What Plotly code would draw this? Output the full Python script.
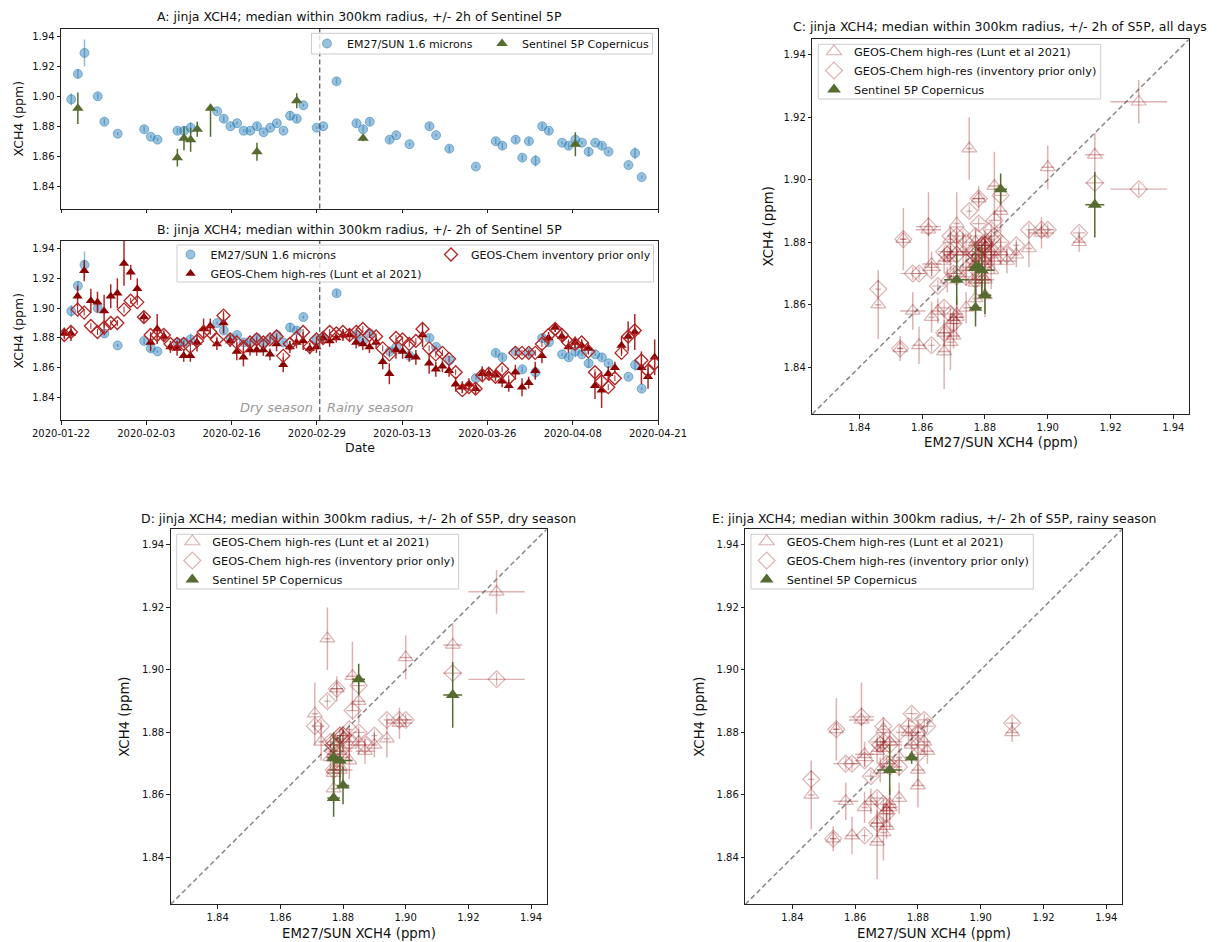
import plotly.graph_objects as go
import pandas as pd

W, H = 1227, 942

# ---------------- data ----------------
em27_time = [
    "2020-01-23 13:00", "2020-01-24 13:00", "2020-01-25 13:00", "2020-01-27 13:00", "2020-01-28 13:00",
    "2020-01-30 13:00", "2020-02-03 13:00", "2020-02-04 13:00", "2020-02-05 13:00", "2020-02-08 13:00",
    "2020-02-09 13:00", "2020-02-10 13:00", "2020-02-14 13:00", "2020-02-15 13:00", "2020-02-16 13:00",
    "2020-02-17 13:00", "2020-02-18 13:00", "2020-02-19 13:00", "2020-02-20 13:00", "2020-02-21 13:00",
    "2020-02-22 13:00", "2020-02-23 13:00", "2020-02-24 13:00", "2020-02-25 13:00", "2020-02-26 13:00",
    "2020-02-27 13:00", "2020-02-29 13:00", "2020-03-01 13:00", "2020-03-03 13:00", "2020-03-06 13:00",
    "2020-03-07 13:00", "2020-03-08 13:00", "2020-03-11 13:00", "2020-03-12 13:00", "2020-03-14 13:00",
    "2020-03-17 13:00", "2020-03-18 13:00", "2020-03-20 13:00", "2020-03-24 13:00", "2020-03-27 13:00",
    "2020-03-28 13:00", "2020-03-30 13:00", "2020-03-31 13:00", "2020-04-01 13:00", "2020-04-02 13:00",
    "2020-04-03 13:00", "2020-04-04 13:00", "2020-04-06 13:00", "2020-04-07 13:00", "2020-04-08 13:00",
    "2020-04-09 13:00", "2020-04-10 13:00", "2020-04-11 13:00", "2020-04-12 13:00", "2020-04-13 13:00",
    "2020-04-16 13:00", "2020-04-17 13:00", "2020-04-18 13:00",
]
em27_xch4 = [
    1.898, 1.915, 1.929, 1.900, 1.883, 1.875, 1.878, 1.873, 1.871, 1.877,
    1.877, 1.879, 1.890, 1.885, 1.880, 1.882, 1.877, 1.877, 1.880, 1.876,
    1.879, 1.882, 1.877, 1.887, 1.885, 1.894, 1.879, 1.880, 1.910, 1.882,
    1.878, 1.883, 1.871, 1.874, 1.868, 1.880, 1.874, 1.865, 1.853, 1.870,
    1.867, 1.871, 1.859, 1.870, 1.857, 1.880, 1.877, 1.869, 1.867, 1.871,
    1.869, 1.863, 1.869, 1.867, 1.863, 1.854, 1.862, 1.846,
]
em27_err = [
    0.004, 0.003, 0.009, 0.002, 0.002, 0.001, 0.002, 0.001, 0.001, 0.002,
    0.002, 0.004, 0.001, 0.002, 0.001, 0.001, 0.001, 0.001, 0.002, 0.001,
    0.001, 0.001, 0.001, 0.003, 0.002, 0.001, 0.001, 0.001, 0.002, 0.002,
    0.002, 0.002, 0.002, 0.001, 0.001, 0.002, 0.001, 0.002, 0.001, 0.002,
    0.002, 0.002, 0.002, 0.002, 0.004, 0.002, 0.002, 0.001, 0.002, 0.004,
    0.001, 0.003, 0.001, 0.002, 0.001, 0.001, 0.004, 0.001,
]

s5p_time = [
    "2020-01-24 13:00", "2020-02-08 13:00", "2020-02-09 13:00", "2020-02-10 13:00", "2020-02-11 13:00",
    "2020-02-13 13:00", "2020-02-20 13:00", "2020-02-26 13:00", "2020-03-07 13:00", "2020-04-08 13:00",
]
s5p_xch4 = [1.892, 1.859, 1.872, 1.871, 1.878, 1.892, 1.863, 1.897, 1.872, 1.868]
s5p_err_plus = [0.0105, 0.006, 0.008, 0.008, 0.005, 0.001, 0.006, 0.005, 0.002, 0.008]
s5p_err_minus = [0.0105, 0.006, 0.008, 0.008, 0.005, 0.019, 0.006, 0.005, 0.002, 0.008]

# GEOS-Chem daily values, one per day starting 2020-01-22
model_start = "2020-01-22 12:00"
gc_highres = [
    1.883, 1.883, 1.908, 1.925, 1.905, 1.904, 1.898, 1.908, 1.910, 1.930,
    1.924, 1.913, 1.894, 1.877, 1.886, 1.881, 1.874, 1.873, 1.868, 1.868,
    1.877, 1.886, 1.888, 1.876, 1.890, 1.878, 1.871, 1.867, 1.872, 1.872,
    1.872, 1.869, 1.876, 1.862, 1.874, 1.877, 1.878, 1.873, 1.874, 1.880,
    1.878, 1.880, 1.882, 1.882, 1.877, 1.876, 1.874, 1.877, 1.864, 1.856,
    1.872, 1.871, 1.868, 1.867, 1.882, 1.863, 1.859, 1.861, 1.858, 1.849,
    1.847, 1.849, 1.846, 1.856, 1.856, 1.855, 1.851, 1.848, 1.857, 1.847,
    1.850, 1.858, 1.868, 1.880, 1.887, 1.881, 1.874, 1.877, 1.875, 1.873,
    1.848, 1.845, 1.856, 1.860, 1.875, 1.881, 1.884, 1.860, 1.854, 1.867,
]
gc_highres_err = [
    0.004, 0.005, 0.007, 0.007, 0.008, 0.007, 0.011, 0.008, 0.010, 0.015,
    0.005, 0.007, 0.004, 0.006, 0.010, 0.004, 0.004, 0.005, 0.004, 0.004,
    0.006, 0.007, 0.005, 0.004, 0.007, 0.004, 0.006, 0.006, 0.004, 0.004,
    0.004, 0.004, 0.005, 0.005, 0.004, 0.004, 0.006, 0.004, 0.004, 0.004,
    0.004, 0.003, 0.004, 0.004, 0.004, 0.004, 0.004, 0.004, 0.005, 0.007,
    0.006, 0.005, 0.004, 0.005, 0.008, 0.007, 0.005, 0.004, 0.004, 0.005,
    0.004, 0.004, 0.004, 0.005, 0.004, 0.004, 0.004, 0.004, 0.005, 0.006,
    0.004, 0.006, 0.005, 0.004, 0.003, 0.004, 0.004, 0.004, 0.004, 0.004,
    0.009, 0.012, 0.005, 0.004, 0.006, 0.010, 0.012, 0.011, 0.008, 0.012,
]
gc_prior = [
    1.882, 1.884, 1.899, 1.897, 1.888, 1.884, 1.887, 1.890, 1.890, 1.899,
    1.905, 1.904, 1.894, 1.882, 1.882, 1.882, 1.876, 1.876, 1.876, 1.874,
    1.878, 1.884, 1.884, 1.879, 1.895, 1.879, 1.877, 1.874, 1.877, 1.879,
    1.877, 1.879, 1.881, 1.868, 1.876, 1.880, 1.884, 1.874, 1.879, 1.880,
    1.884, 1.883, 1.884, 1.882, 1.884, 1.886, 1.882, 1.881, 1.873, 1.869,
    1.880, 1.879, 1.876, 1.878, 1.886, 1.873, 1.869, 1.870, 1.866, 1.857,
    1.845, 1.847, 1.846, 1.855, 1.856, 1.854, 1.859, 1.853, 1.870, 1.870,
    1.870, 1.870, 1.876, 1.882, 1.886, 1.882, 1.877, 1.876, 1.877, 1.871,
    1.857, 1.851, 1.847, 1.853, 1.870, 1.881, 1.885, 1.865, 1.858, 1.863,
]
gc_prior_err = [
    0.002, 0.002, 0.002, 0.002, 0.002, 0.002, 0.003, 0.002, 0.002, 0.002,
    0.002, 0.002, 0.002, 0.002, 0.002, 0.002, 0.002, 0.002, 0.002, 0.002,
    0.002, 0.002, 0.002, 0.002, 0.003, 0.002, 0.002, 0.002, 0.002, 0.002,
    0.002, 0.002, 0.002, 0.002, 0.002, 0.002, 0.002, 0.002, 0.002, 0.002,
    0.002, 0.002, 0.002, 0.002, 0.002, 0.002, 0.002, 0.002, 0.002, 0.002,
    0.002, 0.002, 0.002, 0.002, 0.003, 0.002, 0.002, 0.002, 0.002, 0.002,
    0.002, 0.002, 0.002, 0.002, 0.002, 0.002, 0.002, 0.002, 0.002, 0.002,
    0.002, 0.002, 0.002, 0.002, 0.002, 0.002, 0.002, 0.002, 0.002, 0.002,
    0.002, 0.002, 0.002, 0.002, 0.002, 0.002, 0.003, 0.003, 0.002, 0.002,
]

date_ticklabels = ["2020-01-22", "2020-02-03", "2020-02-16", "2020-02-29",
                   "2020-03-13", "2020-03-26", "2020-04-08", "2020-04-21"]
date_range = ["2020-01-22", "2020-04-21"]
season_split = "2020-03-01"
ppm_ticks = [1.84, 1.86, 1.88, 1.90, 1.92, 1.94]
ppm_range = [1.825, 1.945]

# ---------------- derived ----------------
em_t = pd.to_datetime(em27_time)
s5_t = pd.to_datetime(s5p_time)
model_t = pd.date_range(model_start, periods=len(gc_highres), freq="D")
t0 = pd.Timestamp(date_range[0])
t1 = pd.Timestamp(date_range[1])
n_int = len(date_ticklabels) - 1
date_tickvals = [t0 + (t1 - t0) * i / n_int for i in range(len(date_ticklabels))]

model_day_index = {d.normalize(): i for i, d in enumerate(model_t)}
em_day_index = {d.normalize(): i for i, d in enumerate(em_t)}


def in_season(d, season):
    if season == "dry":
        return d < pd.Timestamp(season_split)
    if season == "rainy":
        return d >= pd.Timestamp(season_split)
    return True


def pairs(season):
    rows = []
    for i, d in enumerate(em_t):
        if not in_season(d, season):
            continue
        j = model_day_index.get(d.normalize())
        if j is None:
            continue
        rows.append((em27_xch4[i], em27_err[i], gc_highres[j], gc_highres_err[j], gc_prior[j], gc_prior_err[j]))
    return rows


def s5p_pairs(season):
    rows = []
    for k, d in enumerate(s5_t):
        if not in_season(d, season):
            continue
        i = em_day_index.get(d.normalize())
        if i is None:
            continue
        rows.append((em27_xch4[i], em27_err[i], s5p_xch4[k], s5p_err_plus[k], s5p_err_minus[k]))
    return rows


# ---------------- style ----------------
FONT = "DejaVu Sans"
BLUE = "rgba(31,119,180,0.45)"
BLUE_E = "rgba(31,119,180,0.5)"
GREEN = "#556B2F"
DARKRED = "#8B0000"
PRIOR = "#B22222"
PALE = "rgba(150,20,20,0.33)"

fig = go.Figure()


def px_x(p):
    return p / W


def px_y(p):
    return 1 - p / H


# ---- Panel A ----
fig.add_trace(go.Scatter(
    x=em_t, y=em27_xch4, mode="markers", name="EM27/SUN 1.6 microns",
    marker=dict(symbol="circle", size=9, color=BLUE, line=dict(width=1, color=BLUE_E)),
    error_y=dict(type="data", array=em27_err, color=BLUE_E, thickness=1.5, width=0),
    xaxis="x", yaxis="y", legend="legend8"))
fig.add_trace(go.Scatter(
    x=s5_t, y=s5p_xch4, mode="markers", name="Sentinel 5P Copernicus",
    marker=dict(symbol="triangle-up", size=10, color=GREEN),
    error_y=dict(type="data", symmetric=False, array=s5p_err_plus, arrayminus=s5p_err_minus,
                 color=GREEN, thickness=1.5, width=0),
    xaxis="x", yaxis="y", legend="legend2"))

# ---- Panel B ----
fig.add_trace(go.Scatter(
    x=em_t, y=em27_xch4, mode="markers", name="EM27/SUN 1.6 microns",
    marker=dict(symbol="circle", size=9, color=BLUE, line=dict(width=1, color=BLUE_E)),
    error_y=dict(type="data", array=em27_err, color=BLUE_E, thickness=1.5, width=0),
    xaxis="x2", yaxis="y2", legend="legend3"))
fig.add_trace(go.Scatter(
    x=model_t, y=gc_highres, mode="markers", name="GEOS-Chem high-res (Lunt et al 2021)",
    marker=dict(symbol="triangle-up", size=9, color=DARKRED),
    error_y=dict(type="data", array=gc_highres_err, color="rgba(160,0,0,0.85)", thickness=1.5, width=0),
    xaxis="x2", yaxis="y2", legend="legend3"))
fig.add_trace(go.Scatter(
    x=model_t, y=gc_prior, mode="markers", name="GEOS-Chem inventory prior only",
    marker=dict(symbol="diamond-open", size=10, color=PRIOR, line=dict(width=1.3)),
    error_y=dict(type="data", array=gc_prior_err, color=PRIOR, thickness=1, width=0),
    xaxis="x2", yaxis="y2", legend="legend4"))

# ---- Scatter panels C, D, E ----
panels = [("all", "x3", "y3", "legend5"), ("dry", "x4", "y4", "legend6"), ("rainy", "x5", "y5", "legend7")]
for season, xa, ya, lg in panels:
    rows = pairs(season)
    ex = [r[0] for r in rows]
    exe = [r[1] for r in rows]
    hr = [r[2] for r in rows]
    hre = [r[3] for r in rows]
    pr = [r[4] for r in rows]
    pre = [r[5] for r in rows]
    fig.add_trace(go.Scatter(
        x=ex, y=hr, mode="markers", name="GEOS-Chem high-res (Lunt et al 2021)",
        marker=dict(symbol="triangle-up-open", size=13, color=PALE, line=dict(width=1.2)),
        error_x=dict(type="data", array=exe, color=PALE, thickness=1.5, width=0),
        error_y=dict(type="data", array=hre, color=PALE, thickness=1.5, width=0),
        xaxis=xa, yaxis=ya, legend=lg))
    fig.add_trace(go.Scatter(
        x=ex, y=pr, mode="markers", name="GEOS-Chem high-res (inventory prior only)",
        marker=dict(symbol="diamond-open", size=13, color=PALE, line=dict(width=1.2)),
        error_x=dict(type="data", array=exe, color=PALE, thickness=1.2, width=0),
        error_y=dict(type="data", array=pre, color=PALE, thickness=1.2, width=0),
        xaxis=xa, yaxis=ya, legend=lg))
    srows = s5p_pairs(season)
    fig.add_trace(go.Scatter(
        x=[r[0] for r in srows], y=[r[2] for r in srows], mode="markers",
        name="Sentinel 5P Copernicus",
        marker=dict(symbol="triangle-up", size=12, color=GREEN),
        error_x=dict(type="data", array=[r[1] for r in srows], color=GREEN, thickness=1.5, width=0),
        error_y=dict(type="data", symmetric=False, array=[r[3] for r in srows],
                     arrayminus=[r[4] for r in srows], color=GREEN, thickness=1.5, width=0),
        xaxis=xa, yaxis=ya, legend=lg))

# ---------------- axes ----------------
axis_common = dict(showgrid=False, zeroline=False, showline=True, linecolor="#222", linewidth=1,
                   mirror=True, ticks="outside", ticklen=3.5, tickwidth=0.9, tickcolor="#222",
                   tickfont=dict(family=FONT, size=10, color="#111"))

ppm_axis = dict(axis_common, range=ppm_range, tickvals=ppm_ticks, tickformat=".2f")
date_axis = dict(axis_common, type="date", range=date_range, tickvals=date_tickvals,
                 ticktext=date_ticklabels)

layout_axes = {}
layout_axes["xaxis"] = dict(date_axis, domain=[px_x(61), px_x(658)], anchor="y", showticklabels=False)
layout_axes["yaxis"] = dict(ppm_axis, domain=[px_y(208.5), px_y(29)], anchor="x")
layout_axes["xaxis2"] = dict(date_axis, domain=[px_x(61), px_x(658)], anchor="y2")
layout_axes["yaxis2"] = dict(ppm_axis, domain=[px_y(420), px_y(241)], anchor="x2")
layout_axes["xaxis3"] = dict(ppm_axis, domain=[px_x(812.3), px_x(1189)], anchor="y3")
layout_axes["yaxis3"] = dict(ppm_axis, domain=[px_y(414), px_y(39.3)], anchor="x3")
layout_axes["xaxis4"] = dict(ppm_axis, domain=[px_x(170.7), px_x(546.7)], anchor="y4")
layout_axes["yaxis4"] = dict(ppm_axis, domain=[px_y(904.3), px_y(529.3)], anchor="x4")
layout_axes["xaxis5"] = dict(ppm_axis, domain=[px_x(745.3), px_x(1122)], anchor="y5")
layout_axes["yaxis5"] = dict(ppm_axis, domain=[px_y(904.3), px_y(529.3)], anchor="x5")

# ---------------- legends ----------------
leg_font_ab = dict(family=FONT, size=11, color="#111")
leg_font_cde = dict(family=FONT, size=11.3, color="#111")


def leg(xp, yp, font):
    return dict(x=px_x(xp), y=px_y(yp), xanchor="left", yanchor="top", orientation="v",
                bgcolor="rgba(0,0,0,0)", borderwidth=0, font=font, visible=True)


legends = dict(
    legend8=leg(307, 29, leg_font_ab),
    legend2=leg(482, 29, leg_font_ab),
    legend3=leg(170.5, 240, leg_font_ab),
    legend4=leg(431, 240, leg_font_ab),
    legend5=leg(814, 37, leg_font_cde),
    legend6=leg(172.3, 527, leg_font_cde),
    legend7=leg(746.7, 527, leg_font_cde),
)

# ---------------- shapes ----------------
shapes = []


def frame(x0, y0, x1, y1):
    shapes.append(dict(type="rect", xref="paper", yref="paper",
                       x0=px_x(x0), x1=px_x(x1), y0=px_y(y1), y1=px_y(y0),
                       fillcolor="rgba(255,255,255,0.8)", line=dict(color="#cccccc", width=1),
                       layer="above"))


for xr, yr in [("x", "y domain"), ("x2", "y2 domain")]:
    shapes.append(dict(type="line", xref=xr, yref=yr, x0=season_split, x1=season_split, y0=0, y1=1,
                       line=dict(color="#666666", width=1.4, dash="5px,3px"), layer="above"))
for xr, yr in [("x3", "y3"), ("x4", "y4"), ("x5", "y5")]:
    shapes.append(dict(type="line", xref=xr, yref=yr, x0=ppm_range[0], y0=ppm_range[0],
                       x1=ppm_range[1], y1=ppm_range[1],
                       line=dict(color="#888888", width=1.5, dash="5px,3px"), layer="below"))

frame(311.5, 33.3, 652.5, 54)
frame(177, 245, 653.5, 282)
frame(818.3, 44.3, 1100.7, 99)
frame(176.7, 534.3, 458.7, 589)
frame(751, 534.3, 1033.3, 589)

# ---------------- annotations ----------------
annotations = []


def text(xp, yp, s, size, angle=0, xanchor="center", color="#111", style="normal"):
    annotations.append(dict(xref="paper", yref="paper", x=px_x(xp), y=px_y(yp), text=s,
                            showarrow=False, xanchor=xanchor, yanchor="middle", textangle=angle,
                            font=dict(family=FONT, size=size, color=color, style=style)))


TS = 12.5
text(359.5, 17, "A: jinja XCH4; median within 300km radius, +/- 2h of Sentinel 5P", TS)
text(359.5, 229, "B: jinja XCH4; median within 300km radius, +/- 2h of Sentinel 5P", TS)
text(1000, 27, "C: jinja XCH4; median within 300km radius, +/- 2h of S5P, all days", TS)
text(358.7, 518, "D: jinja XCH4; median within 300km radius, +/- 2h of S5P, dry season", TS)
text(933.6, 518, "E: jinja XCH4; median within 300km radius, +/- 2h of S5P, rainy season", TS)

text(18, 118.5, "XCH4 (ppm)", 12.5, angle=-90)
text(18, 330.5, "XCH4 (ppm)", 12.5, angle=-90)
text(359.5, 447, "Date", 12.5)
text(768, 226.5, "XCH4 (ppm)", 13.3, angle=-90)
text(1000.6, 442, "EM27/SUN XCH4 (ppm)", 13.3)
text(125, 716.8, "XCH4 (ppm)", 13.3, angle=-90)
text(358.7, 933, "EM27/SUN XCH4 (ppm)", 13.3)
text(700, 716.8, "XCH4 (ppm)", 13.3, angle=-90)
text(933.6, 933, "EM27/SUN XCH4 (ppm)", 13.3)

annotations.append(dict(xref="x2", yref="paper", x=season_split, y=px_y(407), text="Dry season",
                        showarrow=False, xanchor="right", yanchor="middle", xshift=-5,
                        font=dict(family=FONT, size=13, color="#999999", style="italic")))
annotations.append(dict(xref="x2", yref="paper", x=season_split, y=px_y(407), text="Rainy season",
                        showarrow=False, xanchor="left", yanchor="middle", xshift=5,
                        font=dict(family=FONT, size=13, color="#999999", style="italic")))

fig.update_layout(
    width=W, height=H, margin=dict(l=0, r=0, t=0, b=0, autoexpand=False),
    paper_bgcolor="white", plot_bgcolor="white", showlegend=True,
    font=dict(family=FONT, size=10, color="#111"),
    shapes=shapes, annotations=annotations,
    **layout_axes, **legends,
)

fig.write_html("out.html", config={"displayModeBar": False},
               post_script="document.body.style.margin='0';")
